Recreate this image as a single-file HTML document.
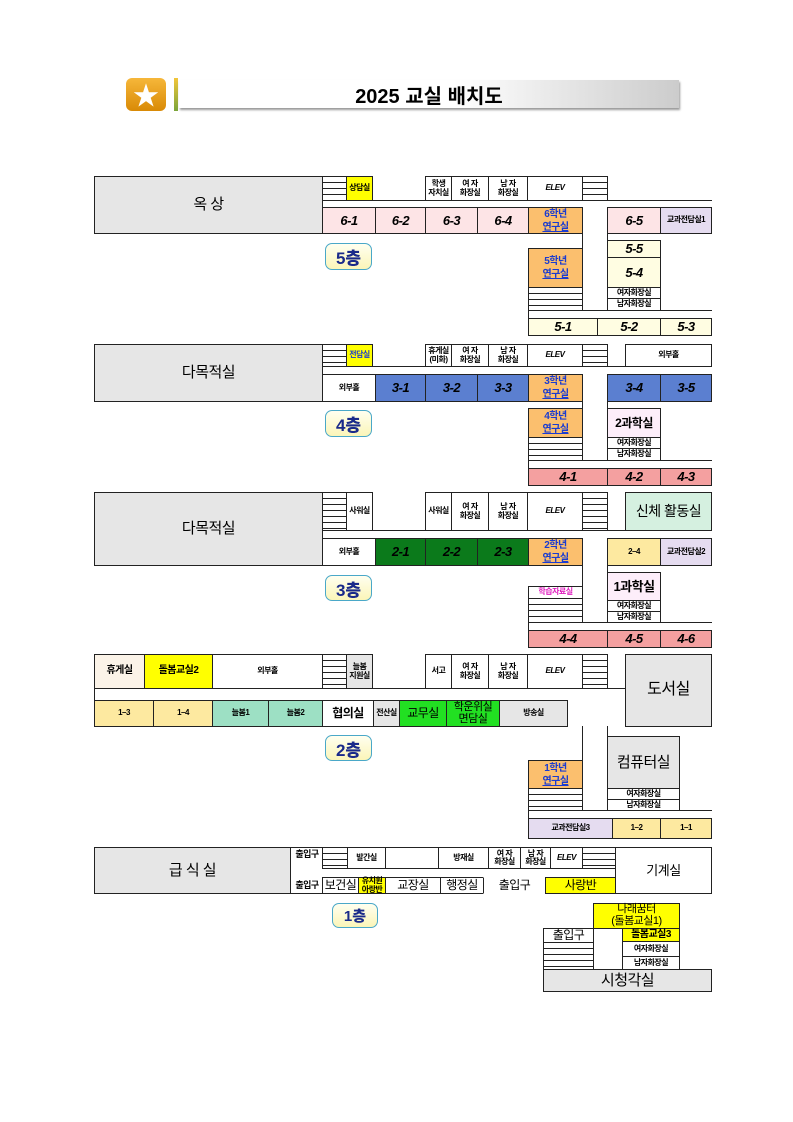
<!DOCTYPE html>
<html><head><meta charset="utf-8"><style>
body{margin:0;width:793px;height:1122px;background:#fff;position:relative;overflow:hidden;font-family:"Liberation Sans","Noto Sans CJK KR",sans-serif}
.b{position:absolute;border:1px solid #222;box-sizing:border-box;display:flex;align-items:center;justify-content:center;text-align:center;font-weight:bold;line-height:1.05;color:#000;background:#fff;font-size:8px;letter-spacing:-0.5px}
.s{position:absolute;border:1px solid #222;box-sizing:border-box;background:repeating-linear-gradient(to bottom,#fff 0,#fff 5px,#222 5px,#222 6px)}
.c{font-size:13px;font-style:italic;font-family:"Liberation Sans","Noto Sans CJK KR",sans-serif;font-weight:900}
.big{font-size:15px;font-weight:normal}
.or{background:#fbbf6e;color:#1a3bd0;font-size:10px;line-height:1.3}
.or u{text-decoration:underline}
.pk{background:#fde4e6}.ly{background:#fffde2}.bl{background:#5b7fd0}.gr{background:#0b7a1b}
.rd{background:#f4a0a0}.lv{background:#e5dcf0}.ye{background:#ffff00}.gy{background:#e6e6e6}
.yl{background:#fde9a0}.mt{background:#9de0c4}.lg{background:#22e022}
.fl{position:absolute;border:1.5px solid #4aa8c8;border-radius:7px;background:linear-gradient(#fffff0,#fbf5b8);color:#1a2a8a;font-weight:900;font-size:17px;display:flex;align-items:center;justify-content:center;box-sizing:border-box}
.ln{position:absolute;background:#222}
</style></head><body>
<!-- header -->
<div style="position:absolute;left:126px;top:78px;width:40px;height:33px;border-radius:6px;background:linear-gradient(#f6b73a,#d98a06);display:flex;align-items:center;justify-content:center;color:#fff;font-size:26px">★</div>
<div style="position:absolute;left:174px;top:78px;width:4px;height:33px;background:linear-gradient(#f3c63a,#7aa53a)"></div>
<div style="position:absolute;left:179px;top:80px;width:500px;height:28px;background:linear-gradient(to right,#fff 55%,#ccc);box-shadow:1px 2px 2px #999;display:flex;align-items:center;justify-content:center;font-size:20px;font-weight:bold">2025 교실 배치도</div>

<!-- ===== 6/5 floor ===== -->
<div class="b gy big" style="left:94px;top:176px;width:229px;height:58px">옥 상</div>
<div class="ln" style="left:322px;top:200px;width:390px;height:1px"></div>
<div class="ln" style="left:607px;top:176px;width:1px;height:25px"></div>
<div class="s" style="left:322px;top:176px;width:25px;height:25px"></div>
<div class="b ye" style="left:346px;top:176px;width:27px;height:25px">상담실</div>
<div class="b" style="left:425px;top:176px;width:27px;height:25px">학생<br>자치실</div>
<div class="b" style="left:451px;top:176px;width:38px;height:25px">여 자<br>화장실</div>
<div class="b" style="left:488px;top:176px;width:40px;height:25px">남 자<br>화장실</div>
<div class="b" style="left:527px;top:176px;width:56px;height:25px;font-style:italic">ELEV</div>
<div class="s" style="left:582px;top:176px;width:26px;height:25px"></div>
<div class="b pk c" style="left:322px;top:207px;width:54px;height:27px">6-1</div>
<div class="b pk c" style="left:375px;top:207px;width:51px;height:27px">6-2</div>
<div class="b pk c" style="left:425px;top:207px;width:53px;height:27px">6-3</div>
<div class="b pk c" style="left:477px;top:207px;width:52px;height:27px">6-4</div>
<div class="b or" style="left:528px;top:207px;width:55px;height:27px"><span>6학년<br><u>연구실</u></span></div>
<div class="b pk c" style="left:607px;top:207px;width:54px;height:27px">6-5</div>
<div class="b lv" style="left:660px;top:207px;width:52px;height:27px">교과전담실1</div>
<div class="ln" style="left:582px;top:233px;width:1px;height:78px"></div>
<div class="ln" style="left:607px;top:233px;width:1px;height:78px"></div>
<div class="fl" style="left:325px;top:243px;width:47px;height:27px">5층</div>
<div class="b or" style="left:528px;top:248px;width:55px;height:40px"><span>5학년<br><u>연구실</u></span></div>
<div class="s" style="left:528px;top:287px;width:55px;height:24px"></div>
<div class="b ly c" style="left:607px;top:240px;width:54px;height:18px">5-5</div>
<div class="b ly c" style="left:607px;top:257px;width:54px;height:31px">5-4</div>
<div class="b" style="left:607px;top:287px;width:54px;height:12px">여자화장실</div>
<div class="b" style="left:607px;top:298px;width:54px;height:13px">남자화장실</div>
<div class="ln" style="left:528px;top:310px;width:184px;height:1px"></div>
<div class="ln" style="left:528px;top:310px;width:1px;height:9px"></div>
<div class="b ly c" style="left:528px;top:318px;width:70px;height:18px">5-1</div>
<div class="b ly c" style="left:597px;top:318px;width:64px;height:18px">5-2</div>
<div class="b ly c" style="left:660px;top:318px;width:52px;height:18px">5-3</div>

<!-- ===== 4 floor ===== -->
<div class="b gy big" style="left:94px;top:344px;width:229px;height:58px">다목적실</div>
<div class="ln" style="left:322px;top:366px;width:303px;height:1px"></div>
<div class="ln" style="left:607px;top:344px;width:1px;height:23px"></div>
<div class="ln" style="left:322px;top:366px;width:1px;height:36px"></div>
<div class="s" style="left:322px;top:344px;width:25px;height:23px"></div>
<div class="b ye" style="left:346px;top:344px;width:27px;height:23px;color:#1a3bd0">전담실</div>
<div class="b" style="left:425px;top:344px;width:27px;height:23px">휴게실<br>(미화)</div>
<div class="b" style="left:451px;top:344px;width:38px;height:23px">여 자<br>화장실</div>
<div class="b" style="left:488px;top:344px;width:40px;height:23px">남 자<br>화장실</div>
<div class="b" style="left:527px;top:344px;width:56px;height:23px;font-style:italic">ELEV</div>
<div class="s" style="left:582px;top:344px;width:26px;height:23px"></div>
<div class="b" style="left:625px;top:344px;width:87px;height:23px">외부홀</div>
<div class="b" style="left:322px;top:374px;width:54px;height:28px">외부홀</div>
<div class="b bl c" style="left:375px;top:374px;width:51px;height:28px">3-1</div>
<div class="b bl c" style="left:425px;top:374px;width:53px;height:28px">3-2</div>
<div class="b bl c" style="left:477px;top:374px;width:52px;height:28px">3-3</div>
<div class="b or" style="left:528px;top:374px;width:55px;height:28px"><span>3학년<br><u>연구실</u></span></div>
<div class="b bl c" style="left:607px;top:374px;width:54px;height:28px">3-4</div>
<div class="b bl c" style="left:660px;top:374px;width:52px;height:28px">3-5</div>
<div class="ln" style="left:582px;top:401px;width:1px;height:60px"></div>
<div class="ln" style="left:607px;top:401px;width:1px;height:60px"></div>
<div class="fl" style="left:325px;top:410px;width:47px;height:27px">4층</div>
<div class="b or" style="left:528px;top:408px;width:55px;height:30px"><span>4학년<br><u>연구실</u></span></div>
<div class="s" style="left:528px;top:437px;width:55px;height:24px"></div>
<div class="b" style="left:607px;top:408px;width:54px;height:30px;background:#fdeefa;font-size:12px">2과학실</div>
<div class="b" style="left:607px;top:437px;width:54px;height:12px">여자화장실</div>
<div class="b" style="left:607px;top:448px;width:54px;height:13px">남자화장실</div>
<div class="ln" style="left:528px;top:460px;width:184px;height:1px"></div>
<div class="ln" style="left:528px;top:460px;width:1px;height:9px"></div>
<div class="b rd c" style="left:528px;top:468px;width:80px;height:18px">4-1</div>
<div class="b rd c" style="left:607px;top:468px;width:54px;height:18px">4-2</div>
<div class="b rd c" style="left:660px;top:468px;width:52px;height:18px">4-3</div>

<!-- ===== 3 floor ===== -->
<div class="b gy big" style="left:94px;top:492px;width:229px;height:74px">다목적실</div>
<div class="ln" style="left:322px;top:530px;width:390px;height:1px"></div>
<div class="ln" style="left:607px;top:492px;width:1px;height:39px"></div>
<div class="ln" style="left:322px;top:530px;width:1px;height:36px"></div>
<div class="s" style="left:322px;top:492px;width:25px;height:39px"></div>
<div class="b" style="left:346px;top:492px;width:27px;height:39px">사워실</div>
<div class="b" style="left:425px;top:492px;width:27px;height:39px">사워실</div>
<div class="b" style="left:451px;top:492px;width:38px;height:39px">여 자<br>화장실</div>
<div class="b" style="left:488px;top:492px;width:40px;height:39px">남 자<br>화장실</div>
<div class="b" style="left:527px;top:492px;width:56px;height:39px;font-style:italic">ELEV</div>
<div class="s" style="left:582px;top:492px;width:26px;height:39px"></div>
<div class="b" style="left:625px;top:492px;width:87px;height:39px;background:#d5f0e0;font-size:14px;font-weight:normal">신체 활동실</div>
<div class="b" style="left:322px;top:538px;width:54px;height:28px">외부홀</div>
<div class="b gr c" style="left:375px;top:538px;width:51px;height:28px">2-1</div>
<div class="b gr c" style="left:425px;top:538px;width:53px;height:28px">2-2</div>
<div class="b gr c" style="left:477px;top:538px;width:52px;height:28px">2-3</div>
<div class="b or" style="left:528px;top:538px;width:55px;height:28px"><span>2학년<br><u>연구실</u></span></div>
<div class="b yl" style="left:607px;top:538px;width:54px;height:28px">2–4</div>
<div class="b lv" style="left:660px;top:538px;width:52px;height:28px">교과전담실2</div>
<div class="ln" style="left:582px;top:565px;width:1px;height:58px"></div>
<div class="ln" style="left:607px;top:565px;width:1px;height:58px"></div>
<div class="fl" style="left:325px;top:575px;width:47px;height:26px">3층</div>
<div class="b" style="left:528px;top:586px;width:55px;height:13px;color:#e020c0">학습자료실</div>
<div class="s" style="left:528px;top:598px;width:55px;height:25px"></div>
<div class="b" style="left:607px;top:572px;width:54px;height:29px;background:#fdeefa;font-size:13px">1과학실</div>
<div class="b" style="left:607px;top:600px;width:54px;height:12px">여자화장실</div>
<div class="b" style="left:607px;top:611px;width:54px;height:12px">남자화장실</div>
<div class="ln" style="left:528px;top:622px;width:184px;height:1px"></div>
<div class="ln" style="left:528px;top:622px;width:1px;height:9px"></div>
<div class="b rd c" style="left:528px;top:630px;width:80px;height:18px">4-4</div>
<div class="b rd c" style="left:607px;top:630px;width:54px;height:18px">4-5</div>
<div class="b rd c" style="left:660px;top:630px;width:52px;height:18px">4-6</div>

<!-- ===== 2 floor ===== -->
<div class="ln" style="left:94px;top:654px;width:1px;height:73px"></div>
<div class="ln" style="left:94px;top:688px;width:531px;height:1px"></div>
<div class="b" style="left:94px;top:654px;width:51px;height:35px;background:#fbf3e8;font-size:10px">휴게실</div>
<div class="b ye" style="left:144px;top:654px;width:69px;height:35px;font-size:10px">돌봄교실2</div>
<div class="b" style="left:212px;top:654px;width:111px;height:35px">외부홀</div>
<div class="s" style="left:322px;top:654px;width:25px;height:35px"></div>
<div class="b gy" style="left:346px;top:654px;width:27px;height:35px">늘봄<br>지원실</div>
<div class="b" style="left:425px;top:654px;width:27px;height:35px">서고</div>
<div class="b" style="left:451px;top:654px;width:38px;height:35px">여 자<br>화장실</div>
<div class="b" style="left:488px;top:654px;width:40px;height:35px">남 자<br>화장실</div>
<div class="b" style="left:527px;top:654px;width:56px;height:35px;font-style:italic">ELEV</div>
<div class="s" style="left:582px;top:654px;width:26px;height:35px"></div>
<div class="b gy" style="left:625px;top:654px;width:87px;height:73px;font-size:16px;font-weight:normal">도서실</div>
<div class="b yl" style="left:94px;top:700px;width:60px;height:27px">1–3</div>
<div class="b yl" style="left:153px;top:700px;width:60px;height:27px">1–4</div>
<div class="b mt" style="left:212px;top:700px;width:57px;height:27px">늘봄1</div>
<div class="b mt" style="left:268px;top:700px;width:55px;height:27px">늘봄2</div>
<div class="b" style="left:322px;top:700px;width:52px;height:27px;font-size:12px">협의실</div>
<div class="b gy" style="left:373px;top:700px;width:27px;height:27px">전산실</div>
<div class="b lg" style="left:399px;top:700px;width:48px;height:27px;font-size:12px;font-weight:normal">교무실</div>
<div class="b lg" style="left:446px;top:700px;width:54px;height:27px;font-size:11px;font-weight:normal">학운위실<br>면담실</div>
<div class="b gy" style="left:499px;top:700px;width:69px;height:27px">방송실</div>
<div class="ln" style="left:582px;top:726px;width:1px;height:85px"></div>
<div class="ln" style="left:607px;top:726px;width:1px;height:11px"></div>
<div class="ln" style="left:607px;top:736px;width:73px;height:1px"></div>
<div class="fl" style="left:325px;top:735px;width:47px;height:26px">2층</div>
<div class="b or" style="left:528px;top:760px;width:55px;height:29px"><span>1학년<br><u>연구실</u></span></div>
<div class="s" style="left:528px;top:788px;width:55px;height:23px"></div>
<div class="b gy" style="left:607px;top:736px;width:73px;height:53px;font-size:15px;font-weight:normal">컴퓨터실</div>
<div class="b" style="left:607px;top:788px;width:73px;height:12px">여자화장실</div>
<div class="b" style="left:607px;top:799px;width:73px;height:12px">남자화장실</div>
<div class="ln" style="left:528px;top:810px;width:184px;height:1px"></div>
<div class="ln" style="left:528px;top:810px;width:1px;height:9px"></div>
<div class="b lv" style="left:528px;top:818px;width:85px;height:21px">교과전담실3</div>
<div class="b yl" style="left:612px;top:818px;width:49px;height:21px">1–2</div>
<div class="b yl" style="left:660px;top:818px;width:52px;height:21px">1–1</div>

<!-- ===== 1 floor ===== -->
<div class="b gy big" style="left:94px;top:847px;width:197px;height:47px">급 식 실</div>
<div class="ln" style="left:290px;top:847px;width:325px;height:1px"></div>
<div class="ln" style="left:290px;top:893px;width:325px;height:1px"></div>
<div class="ln" style="left:386px;top:868px;width:229px;height:1px"></div>
<div class="b" style="left:291px;top:848px;width:32px;height:14px;border:none;font-size:9px">출입구</div>
<div class="b" style="left:291px;top:878px;width:32px;height:15px;border:none;font-size:9px">출입구</div>
<div class="s" style="left:322px;top:847px;width:26px;height:22px"></div>
<div class="b" style="left:347px;top:847px;width:39px;height:22px">발간실</div>
<div class="b" style="left:438px;top:847px;width:51px;height:22px">방재실</div>
<div class="b" style="left:488px;top:847px;width:33px;height:22px">여 자<br>화장실</div>
<div class="b" style="left:520px;top:847px;width:31px;height:22px">남 자<br>화장실</div>
<div class="b" style="left:550px;top:847px;width:33px;height:22px;font-style:italic">ELEV</div>
<div class="s" style="left:582px;top:847px;width:34px;height:22px"></div>
<div class="b" style="left:615px;top:847px;width:97px;height:47px;font-size:13px;font-weight:normal">기계실</div>
<div class="b" style="left:322px;top:877px;width:37px;height:17px;font-size:12px;font-weight:normal">보건실</div>
<div class="b ye" style="left:358px;top:877px;width:28px;height:17px;font-size:8px">유치원<br>아랑반</div>
<div class="b" style="left:385px;top:877px;width:56px;height:17px;font-size:12px;font-weight:normal">교장실</div>
<div class="b" style="left:440px;top:877px;width:44px;height:17px;font-size:12px;font-weight:normal">행정실</div>
<div class="b" style="left:483px;top:877px;width:63px;height:17px;font-size:12px;font-weight:normal;border-color:#fff #222">출입구</div>
<div class="b ye" style="left:545px;top:877px;width:71px;height:17px;font-size:12px;font-weight:normal">사랑반</div>
<div class="fl" style="left:332px;top:903px;width:46px;height:25px;font-size:15px">1층</div>
<div class="b ye" style="left:593px;top:903px;width:87px;height:26px;font-size:11px;font-weight:normal">나래꿈터<br>(돌봄교실1)</div>
<div class="b" style="left:543px;top:928px;width:51px;height:15px;font-size:12px;font-weight:normal">출입구</div>
<div class="s" style="left:543px;top:942px;width:51px;height:28px"></div>
<div class="ln" style="left:622px;top:928px;width:1px;height:42px"></div>
<div class="b ye" style="left:622px;top:928px;width:58px;height:14px;font-size:10px">돌봄교실3</div>
<div class="b" style="left:622px;top:941px;width:58px;height:16px">여자화장실</div>
<div class="b" style="left:622px;top:956px;width:58px;height:14px">남자화장실</div>
<div class="b gy" style="left:543px;top:969px;width:169px;height:23px;font-size:15px;font-weight:normal">시청각실</div>
</body></html>
